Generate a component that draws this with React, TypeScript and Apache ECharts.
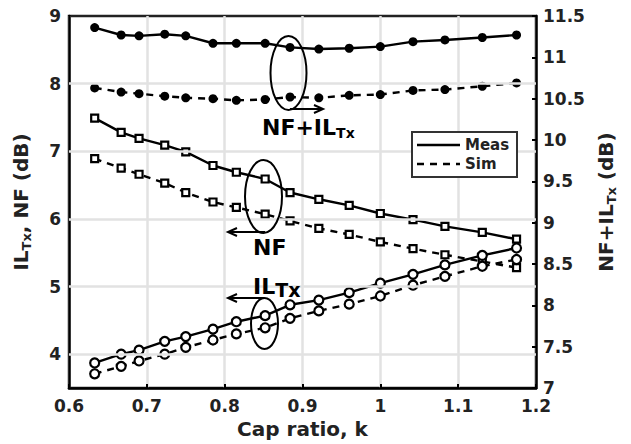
import React, { useEffect, useRef } from "react";
import * as echarts from "echarts";

// ---- data ----
const kValues = [0.633, 0.667, 0.69, 0.723, 0.75, 0.785, 0.815, 0.852, 0.884, 0.921, 0.96, 1.0, 1.042, 1.083, 1.131, 1.175];
const nfIlMeas = [11.36, 11.27, 11.26, 11.28, 11.26, 11.17, 11.17, 11.17, 11.12, 11.1, 11.11, 11.13, 11.19, 11.21, 11.24, 11.27];
const nfIlSim = [10.63, 10.58, 10.56, 10.53, 10.51, 10.5, 10.48, 10.49, 10.52, 10.51, 10.54, 10.55, 10.6, 10.61, 10.65, 10.69];
const nfMeas = [7.49, 7.28, 7.19, 7.09, 6.99, 6.79, 6.69, 6.59, 6.39, 6.29, 6.2, 6.08, 5.99, 5.89, 5.8, 5.7];
const nfSim = [6.89, 6.75, 6.66, 6.53, 6.39, 6.25, 6.17, 6.07, 5.97, 5.86, 5.77, 5.66, 5.56, 5.47, 5.37, 5.28];
const ilMeas = [3.87, 4.0, 4.06, 4.19, 4.26, 4.37, 4.48, 4.57, 4.73, 4.8, 4.91, 5.05, 5.18, 5.32, 5.46, 5.57];
const ilSim = [3.71, 3.82, 3.9, 4.0, 4.1, 4.21, 4.3, 4.39, 4.53, 4.64, 4.74, 4.86, 5.02, 5.15, 5.3, 5.4];
const leftGridValues = [4, 5, 6, 7, 8];
const legendNames = ["Meas", "Sim"];

const FONT = "DejaVu Sans";
const TXT = "#222";
const DASH = [7, 6];

function pairs(ys: number[]) {
  return kValues.map((k, i) => [k, ys[i]]);
}

function makeSeries(name: string, ys: number[], yAxisIndex: number, dashed: boolean, kind: "dot" | "square" | "ring") {
  const symbol = kind === "square" ? "rect" : "circle";
  const symbolSize = kind === "dot" ? 9 : kind === "square" ? 7 : 9;
  const itemStyle =
    kind === "dot"
      ? { color: "#000" }
      : { color: "#fff", borderColor: "#000", borderWidth: 2.2 };
  return {
    type: "line",
    name,
    data: pairs(ys),
    yAxisIndex,
    symbol,
    symbolSize,
    showAllSymbol: true,
    itemStyle,
    lineStyle: { color: "#000", width: 2.4, type: dashed ? DASH : "solid" },
    z: 3,
    silent: true,
  };
}

const boldRich = (size: number) => ({ fontSize: size, fontWeight: "bold", fontFamily: FONT, fill: "#000" });

function arrow(x1: number, x2: number, y: number) {
  const dir = x2 > x1 ? 1 : -1;
  return [
    { type: "line", shape: { x1, y1: y, x2, y2: y }, style: { stroke: "#000", lineWidth: 2 }, z: 100 },
    {
      type: "polyline",
      shape: { points: [[x2 - dir * 9, y - 4], [x2, y], [x2 - dir * 9, y + 4]] },
      style: { stroke: "#000", lineWidth: 2, fill: "none" },
      z: 100,
    },
  ];
}

function ellipse(cx: number, cy: number, rx: number, ry: number) {
  return { type: "ellipse", shape: { cx, cy, rx, ry }, style: { fill: "none", stroke: "#000", lineWidth: 2 }, z: 100 };
}

export default function App() {
  const ref = useRef<HTMLDivElement>(null);
  useEffect(() => {
    const chart = echarts.init(ref.current!, null, { renderer: "svg" });
    const axisLabelStyle = { fontSize: 17, fontWeight: "bold", fontFamily: FONT, color: TXT };
    const option: any = {
      animation: false,
      backgroundColor: "#fff",
      grid: { left: 69, right: 95, top: 16, bottom: 55, show: true, borderColor: "#222", borderWidth: 2.5, backgroundColor: "#fff" },
      xAxis: {
        type: "value",
        min: 0.6,
        max: 1.2,
        interval: 0.1,
        name: "Cap ratio, k",
        nameLocation: "middle",
        nameGap: 31,
        nameTextStyle: { fontSize: 20, fontWeight: "bold", fontFamily: FONT, color: TXT },
        axisLine: { show: true, lineStyle: { color: "#000", width: 2.5 } },
        axisTick: { show: true, inside: true, length: 4, lineStyle: { color: "#000", width: 2 } },
        axisLabel: { ...axisLabelStyle, margin: 9, formatter: (v: number) => String(Math.round(v * 10) / 10) },
        splitLine: { show: true, lineStyle: { color: "#e2e2e2", width: 2.5 } },
      },
      yAxis: [
        {
          type: "value",
          position: "left",
          min: 3.5,
          max: 9,
          interval: 0.5,
          axisLine: { show: true, lineStyle: { color: "#000", width: 2.5 } },
          axisTick: { show: false },
          axisLabel: {
            ...axisLabelStyle,
            margin: 8,
            formatter: (v: number) => (Math.abs(v - Math.round(v)) < 1e-6 ? String(Math.round(v)) : ""),
          },
          splitLine: { show: false },
        },
        {
          type: "value",
          position: "right",
          min: 7,
          max: 11.5,
          interval: 0.5,
          axisLine: { show: true, lineStyle: { color: "#000", width: 2.5 } },
          axisTick: { show: true, inside: true, length: 4, lineStyle: { color: "#000", width: 2 } },
          axisLabel: { ...axisLabelStyle, margin: 7 },
          splitLine: { show: false },
        },
      ],
      series: [
        {
          type: "line",
          name: "gridlines",
          data: [],
          yAxisIndex: 0,
          z: 1,
          silent: true,
          markLine: {
            silent: true,
            symbol: ["none", "none"],
            label: { show: false },
            lineStyle: { color: "#e2e2e2", width: 2.5, type: "solid" },
            data: leftGridValues.map((v) => ({ yAxis: v })),
          },
        },
        makeSeries("NF+ILTx Meas", nfIlMeas, 1, false, "dot"),
        makeSeries("NF+ILTx Sim", nfIlSim, 1, true, "dot"),
        makeSeries("NF Meas", nfMeas, 0, false, "square"),
        makeSeries("NF Sim", nfSim, 0, true, "square"),
        makeSeries("ILTx Sim", ilSim, 0, true, "ring"),
        makeSeries("ILTx Meas", ilMeas, 0, false, "ring"),
      ],
      graphic: [
        // y-axis titles
        {
          type: "text",
          x: 21,
          y: 202,
          rotation: Math.PI / 2,
          style: {
            text: "{a|IL}{s|Tx}{a|, NF (dB)}",
            align: "center",
            verticalAlign: "middle",
            rich: { a: { ...boldRich(20), fill: TXT }, s: { ...boldRich(13), fill: TXT, padding: [10, 0, 0, 0] } },
          },
          z: 100,
        },
        {
          type: "text",
          x: 606,
          y: 202,
          rotation: Math.PI / 2,
          style: {
            text: "{a|NF+IL}{s|Tx}{a| (dB)}",
            align: "center",
            verticalAlign: "middle",
            rich: { a: { ...boldRich(20), fill: TXT }, s: { ...boldRich(13), fill: TXT, padding: [10, 0, 0, 0] } },
          },
          z: 100,
        },
        // annotations
        ellipse(288.5, 73, 18, 37),
        ...arrow(290, 323, 109),
        {
          type: "text",
          x: 262,
          y: 127,
          style: {
            text: "{m|NF+IL}{s|Tx}",
            align: "left",
            verticalAlign: "middle",
            rich: { m: boldRich(22), s: { ...boldRich(14), padding: [12, 0, 0, 0] } },
          },
          z: 100,
        },
        ellipse(263.5, 196.5, 18.5, 36.5),
        ...arrow(265, 228, 232),
        {
          type: "text",
          x: 253,
          y: 247,
          style: { text: "{m|NF}", align: "left", verticalAlign: "middle", rich: { m: boldRich(22) } },
          z: 100,
        },
        ellipse(264.5, 323.5, 13.5, 25.5),
        ...arrow(264, 228, 298),
        {
          type: "text",
          x: 253,
          y: 286,
          style: {
            text: "{m|IL}{s|Tx}",
            align: "left",
            verticalAlign: "middle",
            rich: { m: boldRich(22), s: { ...boldRich(19), padding: [8, 0, 0, 0] } },
          },
          z: 100,
        },
        // legend box
        {
          type: "rect",
          shape: { x: 412, y: 132, width: 105, height: 45 },
          style: { fill: "#fff", stroke: "#333", lineWidth: 2 },
          z: 100,
        },
        { type: "line", shape: { x1: 417, y1: 145, x2: 460, y2: 145 }, style: { stroke: "#000", lineWidth: 2.4 }, z: 101 },
        {
          type: "line",
          shape: { x1: 417, y1: 164, x2: 460, y2: 164 },
          style: { stroke: "#000", lineWidth: 2.4, lineDash: DASH },
          z: 101,
        },
        {
          type: "text",
          x: 465,
          y: 145,
          style: { text: legendNames[0], fontSize: 15, fontWeight: "bold", fontFamily: FONT, fill: TXT, verticalAlign: "middle" },
          z: 101,
        },
        {
          type: "text",
          x: 465,
          y: 164,
          style: { text: legendNames[1], fontSize: 15, fontWeight: "bold", fontFamily: FONT, fill: TXT, verticalAlign: "middle" },
          z: 101,
        },
      ],
    };
    chart.setOption(option);
    return () => chart.dispose();
  }, []);
  return <div ref={ref} style={{ position: "fixed", left: 0, top: 0, width: 631, height: 444, background: "#fff" }} />;
}
